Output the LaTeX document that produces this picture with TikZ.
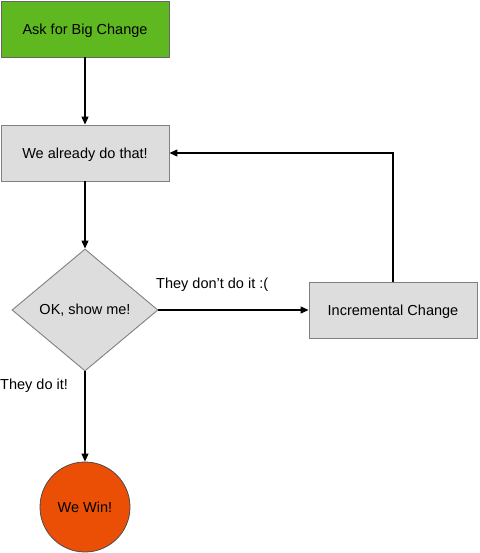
\documentclass[tikz,border=0pt]{standalone}
\usepackage{fontspec}
\setmainfont{Liberation Sans}
\usetikzlibrary{shapes.geometric,arrows.meta}
\definecolor{askgreen}{HTML}{5FB820}
\definecolor{wingreen}{HTML}{EB4F06}
\definecolor{boxgray}{HTML}{DDDDDD}
\definecolor{edgegray}{HTML}{808080}
\tikzset{
  flowbox/.style={draw=edgegray, fill=boxgray, line width=0.9pt, minimum width=168pt, minimum height=56pt, inner sep=0pt, text depth=0pt},
  decision/.style={diamond, draw=edgegray, fill=boxgray, line width=0.9pt, minimum width=146pt, minimum height=122pt, inner sep=0pt},
  flow/.style={-{Triangle[length=8pt,width=7pt]}, line width=1.1pt},
}
\begin{document}
\begin{tikzpicture}[x=1pt, y=-1pt, font=\fontsize{14.5}{17}\selectfont]
    \useasboundingbox (0,0) rectangle (479,553);
    \node[flowbox, fill=askgreen, draw=black!60] (ask) at (85,29) {Ask for Big Change};
    \node[flowbox] (already) at (85,153) {We already do that!};
    \node[decision, aspect=1.2] (show) at (85,310) {OK, show me!};
    \node[flowbox] (incr) at (393,310) {Incremental Change};
    \node[circle, draw=black!70, fill=wingreen, line width=0.8pt, minimum size=90pt, inner sep=0pt] (win) at (85,507) {We Win!};
    
    % Connectors
    \draw[flow] (ask) -- (already);
    \draw[flow] (already) -- (show);
    \draw[flow] (show) -- (incr);
    \draw[flow] (incr.north) |- (already.east);
    \draw[flow] (show) -- (win);
    
    % Edge labels
    \node[anchor=west, inner sep=0pt] (nolabel) at (156,285) {They don't do it :(};
    \node[anchor=west, inner sep=0pt] (yeslabel) at (0,386) {They do it!};
\end{tikzpicture}
\end{document}
